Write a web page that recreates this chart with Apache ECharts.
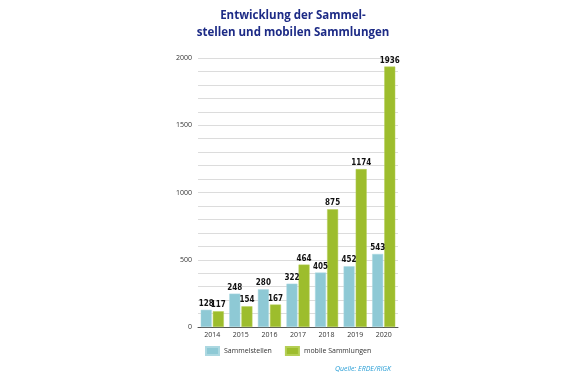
<!DOCTYPE html>
<html>
<head>
<meta charset="utf-8">
<script src="https://cdn.jsdelivr.net/npm/echarts@6/dist/echarts.min.js"></script>
<style>
  html, body { margin: 0; padding: 0; background: #fff; }
  #main { width: 577px; height: 375px; }
</style>
</head>
<body>
<div id="main"></div>
<script>
const years = ['2014', '2015', '2016', '2017', '2018', '2019', '2020'];
const sammelstellen = [128, 248, 280, 322, 405, 452, 543];
const mobile = [117, 154, 167, 464, 875, 1174, 1936];
const yLabels = [0, 500, 1000, 1500, 2000];

const chart = echarts.init(document.getElementById('main'));

const labelStyle = {
  show: true,
  position: 'top',
  distance: 2,
  color: '#111',
  fontSize: 8,
  fontWeight: 'bold',
  fontFamily: 'Liberation Sans Narrow, DejaVu Sans Condensed, sans-serif'
};

chart.setOption({
  animation: false,
  title: [{
    text: 'Entwicklung der Sammel-\nstellen und mobilen Sammlungen',
    left: 288,
    top: 2,
    textAlign: 'center',
    textStyle: {
      color: '#1d2b86',
      fontSize: 11.5,
      fontWeight: 'bold',
      fontFamily: 'Open Sans, sans-serif',
      lineHeight: 17
    }
  }, {
    text: 'Quelle: ERDE/RIGK',
    right: 181,
    top: 360,
    textStyle: {
      color: '#2a9fd6',
      fontSize: 7,
      fontStyle: 'italic',
      fontWeight: 'normal',
      fontFamily: 'Open Sans, sans-serif'
    }
  }],
  legend: {
    left: 200,
    top: 341,
    itemWidth: 13,
    itemHeight: 8,
    itemGap: 13,
    icon: 'rect',
    textStyle: { color: '#333', fontSize: 7, fontFamily: 'Open Sans, sans-serif' },
    data: ['Sammelstellen', 'mobile Sammlungen']
  },
  grid: { left: 198, right: 179, top: 58, bottom: 48 },
  xAxis: {
    type: 'category',
    data: years,
    axisLine: { lineStyle: { color: '#555', width: 1 } },
    axisTick: { show: false },
    axisLabel: { color: '#333', fontSize: 7, margin: 4, fontFamily: 'Open Sans, sans-serif' }
  },
  yAxis: {
    type: 'value',
    min: 0,
    max: 2000,
    interval: 100,
    axisLine: { show: false },
    axisTick: { show: false },
    axisLabel: {
      color: '#333',
      fontSize: 7,
      margin: 6,
      fontFamily: 'Open Sans, sans-serif',
      formatter: v => yLabels.includes(v) ? String(v) : ''
    },
    splitLine: { lineStyle: { color: '#dcdcdc', width: 1 } }
  },
  series: [{
    name: 'Sammelstellen',
    type: 'bar',
    data: sammelstellen,
    barWidth: 11,
    barGap: '10%',
    itemStyle: { color: '#8ec9d5', borderColor: '#acd8e1', borderWidth: 0.5 },
    label: labelStyle
  }, {
    name: 'mobile Sammlungen',
    type: 'bar',
    data: mobile,
    barWidth: 11,
    itemStyle: { color: '#9dbd2d', borderColor: '#b5cf55', borderWidth: 0.5 },
    label: labelStyle
  }]
});
</script>
</body>
</html>
